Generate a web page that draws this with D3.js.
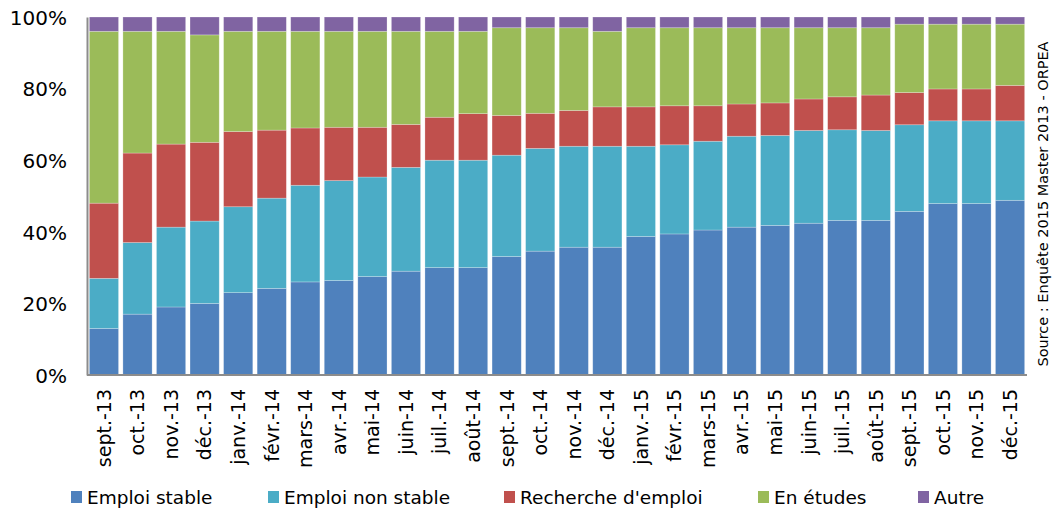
<!DOCTYPE html>
<html>
<head>
<meta charset="utf-8">
<script src="https://cdn.jsdelivr.net/npm/d3@7"></script>
<style>
  body { margin: 0; background: #fff; }
  text { font-family: "DejaVu Sans", sans-serif; fill: #000; }
</style>
</head>
<body>
<div id="chart"></div>
<script>
var width = 1054;
var height = 509;
var margin = {top: 17, right: 27, bottom: 134, left: 87};

var months = ["sept.-13","oct.-13","nov.-13","déc.-13","janv.-14","févr.-14","mars-14","avr.-14",
  "mai-14","juin-14","juil.-14","août-14","sept.-14","oct.-14","nov.-14","déc.-14",
  "janv.-15","févr.-15","mars-15","avr.-15","mai-15","juin-15","juil.-15","août-15",
  "sept.-15","oct.-15","nov.-15","déc.-15"];

var seriesNames = ["Emploi stable","Emploi non stable","Recherche d'emploi","En études","Autre"];
var colors = ["#4F81BD","#4BACC6","#C0504D","#9BBB59","#8064A2"];

var emploiStable = [13,17,19,20,23,24.2,26,26.4,27.5,29,30,30,33.1,34.6,35.7,35.7,
  38.7,39.4,40.5,41.3,41.8,42.4,43.2,43.2,45.7,47.9,47.9,48.8];
var emploiNonStable = [14,20,22.3,23,24,25.2,27,27.9,27.8,29,30,30,28.3,28.7,28.2,28.2,
  25.2,24.9,24.8,25.4,25.1,25.9,25.3,25.1,24.2,23.1,23.1,22.2];
var rechercheEmploi = [21,25,23.2,22,21,19,16,14.9,13.9,12,12,13,11.1,9.8,10,11,
  11,10.9,9.9,9,9.1,8.8,9.2,9.9,9,8.9,8.9,9.9];
var enEtudes = [48,34,31.5,30,28,27.6,27,26.8,26.8,26,24,23,24.5,23.9,23.1,21.1,
  22.1,21.8,21.8,21.3,21,19.9,19.3,18.8,19.1,18.1,18.1,17.1];
var autre = [4,4,4,5,4,4,4,4,4,4,4,4,3,3,3,4,3,3,3,3,3,3,3,3,2,2,2,2];

var yTicks = [0,0.2,0.4,0.6,0.8,1];
var source = "Source : Enquête 2015 Master 2013 - ORPEA";

var allSeries = [emploiStable, emploiNonStable, rechercheEmploi, enEtudes, autre];

// build one row per month, normalised to 100%
var rows = months.map(function(m, i){
  var row = {month: m};
  var total = 0;
  allSeries.forEach(function(s){ total += s[i]; });
  seriesNames.forEach(function(name, k){ row[name] = allSeries[k][i] / total; });
  return row;
});

var stacked = d3.stack().keys(seriesNames)(rows);

var svg = d3.select("#chart").append("svg")
  .attr("width", width)
  .attr("height", height);

var x = d3.scaleBand()
  .domain(months)
  .range([margin.left, width - margin.right])
  .paddingInner(0.13)
  .paddingOuter(0.07);

var y = d3.scaleLinear()
  .domain([0, 1])
  .range([height - margin.bottom, margin.top]);

var g = svg.append("g");

g.selectAll("g.layer")
  .data(stacked)
  .enter()
  .append("g")
  .attr("class", "layer")
  .attr("fill", function(d, i){ return colors[i]; })
  .selectAll("rect")
  .data(function(d){ return d; })
  .enter()
  .append("rect")
  .attr("x", function(d){ return x(d.data.month); })
  .attr("width", x.bandwidth())
  .attr("y", function(d){ return y(d[1]); })
  .attr("height", function(d){ return y(d[0]) - y(d[1]); })
  .attr("stroke", "#ffffff")
  .attr("stroke-opacity", 0.35)
  .attr("stroke-width", 0.7);

// y axis
var yAxis = d3.axisLeft(y)
  .tickValues(yTicks)
  .tickFormat(d3.format(".0%"))
  .tickSize(0)
  .tickPadding(20);

var yg = svg.append("g")
  .attr("transform", "translate(" + margin.left + ",0)")
  .call(yAxis);
yg.select(".domain").attr("stroke", "#8c8c8c").attr("stroke-width", 2);
yg.selectAll("text")
  .style("font-size", "20px")
  .attr("dy", "0.36em");

// x axis
var xAxis = d3.axisBottom(x).tickSize(0).tickPadding(0);
var xg = svg.append("g")
  .attr("transform", "translate(0," + (height - margin.bottom) + ")")
  .call(xAxis);
xg.select(".domain").attr("stroke", "#8c8c8c").attr("stroke-width", 2)
  .attr("d", "M" + margin.left + ",0H" + (width - margin.right));
xg.selectAll("text")
  .style("font-size", "19px")
  .style("text-anchor", "end")
  .attr("transform", "rotate(-90)")
  .attr("x", -14)
  .attr("y", 0)
  .attr("dy", "0.36em");

// legend
var legendX = [71, 268, 504, 758, 918];
var legend = svg.append("g").selectAll("g")
  .data(seriesNames)
  .enter()
  .append("g")
  .attr("transform", function(d, i){ return "translate(" + legendX[i] + ",491)"; });

legend.append("rect")
  .attr("width", 11)
  .attr("height", 12)
  .attr("fill", function(d, i){ return colors[i]; });

legend.append("text")
  .attr("x", 16)
  .attr("y", 6)
  .attr("dy", "0.36em")
  .style("font-size", "18.5px")
  .text(function(d){ return d; });

// source
svg.append("text")
  .attr("transform", "translate(1043,204) rotate(-90)")
  .attr("text-anchor", "middle")
  .attr("dy", "0.36em")
  .style("font-size", "14.5px")
  .text(source);
</script>
</body>
</html>
